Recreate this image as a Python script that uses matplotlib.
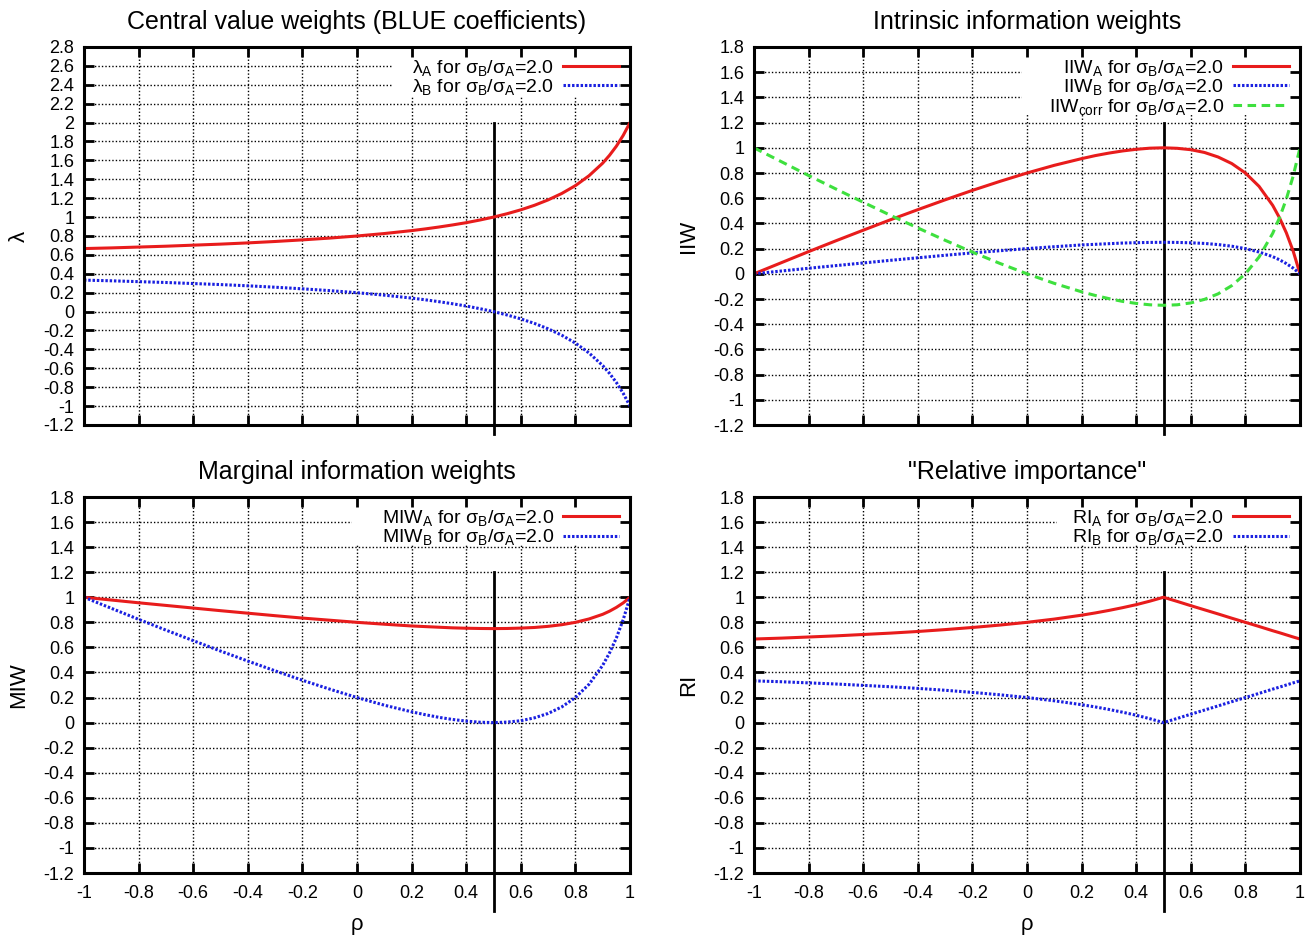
import matplotlib
matplotlib.use("Agg")
import matplotlib.pyplot as plt
from matplotlib.patches import Rectangle

plt.rcParams["font.family"] = ["Liberation Sans", "DejaVu Sans"]
plt.rcParams["mathtext.default"] = "regular"

# correlation values (x axis)
rho = [-1, -0.9, -0.8, -0.7, -0.6, -0.5, -0.4, -0.3, -0.2, -0.1, 0, 0.1, 0.2, 0.25, 0.3,
       0.35, 0.4, 0.45, 0.5, 0.55, 0.6, 0.65, 0.7, 0.75, 0.8, 0.85, 0.9, 0.925, 0.95, 0.975, 1]

# central value weights (BLUE coefficients)
lam_a = [0.667, 0.674, 0.683, 0.692, 0.703, 0.714, 0.727, 0.742, 0.759, 0.778, 0.800, 0.826,
         0.857, 0.875, 0.895, 0.917, 0.941, 0.969, 1.000, 1.036, 1.077, 1.125, 1.182, 1.250,
         1.333, 1.438, 1.571, 1.654, 1.750, 1.864, 2.000]
lam_b = [0.333, 0.326, 0.317, 0.308, 0.297, 0.286, 0.273, 0.258, 0.241, 0.222, 0.200, 0.174,
         0.143, 0.125, 0.105, 0.083, 0.059, 0.031, 0.000, -0.036, -0.077, -0.125, -0.182,
         -0.250, -0.333, -0.438, -0.571, -0.654, -0.750, -0.864, -1.000]

# intrinsic information weights
iiw_a = [0.000, 0.088, 0.176, 0.262, 0.346, 0.429, 0.509, 0.587, 0.662, 0.733, 0.800, 0.861,
         0.914, 0.938, 0.958, 0.975, 0.988, 0.997, 1.000, 0.996, 0.985, 0.963, 0.927, 0.875,
         0.800, 0.694, 0.543, 0.444, 0.325, 0.180, 0.000]
iiw_b = [0.000, 0.022, 0.044, 0.065, 0.086, 0.107, 0.127, 0.147, 0.166, 0.183, 0.200, 0.215,
         0.229, 0.234, 0.239, 0.244, 0.247, 0.249, 0.250, 0.249, 0.246, 0.241, 0.232, 0.219,
         0.200, 0.173, 0.136, 0.111, 0.081, 0.045, 0.000]
iiw_corr = [1.000, 0.890, 0.780, 0.673, 0.568, 0.464, 0.364, 0.266, 0.172, 0.083, 0.000,
            -0.076, -0.143, -0.172, -0.197, -0.219, -0.235, -0.246, -0.250, -0.246, -0.231,
            -0.203, -0.159, -0.094, 0.000, 0.133, 0.321, 0.445, 0.594, 0.776, 1.000]

# marginal information weights
miw_a = [1.000, 0.978, 0.956, 0.935, 0.914, 0.893, 0.873, 0.853, 0.834, 0.817, 0.800, 0.785,
         0.771, 0.766, 0.761, 0.756, 0.753, 0.751, 0.750, 0.751, 0.754, 0.759, 0.768, 0.781,
         0.800, 0.827, 0.864, 0.889, 0.919, 0.955, 1.000]
miw_b = [1.000, 0.912, 0.824, 0.738, 0.654, 0.571, 0.491, 0.413, 0.338, 0.267, 0.200, 0.139,
         0.086, 0.063, 0.042, 0.025, 0.012, 0.003, 0.000, 0.004, 0.015, 0.038, 0.073, 0.125,
         0.200, 0.306, 0.457, 0.556, 0.675, 0.821, 1.000]

# "relative importance"
ri_a = [0.667, 0.674, 0.683, 0.692, 0.703, 0.714, 0.727, 0.742, 0.759, 0.778, 0.800, 0.826,
        0.857, 0.875, 0.895, 0.917, 0.941, 0.969, 1.000, 0.967, 0.933, 0.900, 0.867, 0.833,
        0.800, 0.767, 0.733, 0.717, 0.700, 0.683, 0.667]
ri_b = [0.333, 0.326, 0.317, 0.308, 0.297, 0.286, 0.273, 0.258, 0.241, 0.222, 0.200, 0.174,
        0.143, 0.125, 0.105, 0.083, 0.059, 0.031, 0.000, 0.033, 0.067, 0.100, 0.133, 0.167,
        0.200, 0.233, 0.267, 0.283, 0.300, 0.317, 0.333]

x_ticks = [-1, -0.8, -0.6, -0.4, -0.2, 0, 0.2, 0.4, 0.6, 0.8, 1]
y_ticks_lam = [round(-1.2 + 0.2 * i, 1) for i in range(21)]
y_ticks = [round(-1.2 + 0.2 * i, 1) for i in range(16)]

RED = "#e81c1c"
BLUE = "#1a20e0"
GREEN = "#3ee03e"
DOT = (0, (0.8, 0.6))
DASH = (0, (2.8, 1.8))
ratio = " for σ$_B$/σ$_A$=2.0"

fig = plt.figure(figsize=(13.15, 9.36), dpi=100)
W, H = 1315, 936


def make_ax(x0, y0, x1, y1):
    return fig.add_axes([x0 / W, 1 - y1 / H, (x1 - x0) / W, (y1 - y0) / H])


def style(ax, yt, ylabel, title, key, bottom):
    ax.set_xlim(-1, 1)
    ax.set_ylim(yt[0], yt[-1])
    ax.set_xticks(x_ticks)
    ax.set_yticks(yt)
    ax.set_xticklabels(["%g" % v for v in x_ticks])
    ax.set_yticklabels(["%g" % v for v in yt])
    ax.tick_params(direction="in", length=7, width=2, top=True, right=True,
                   labelsize=13, labelbottom=bottom)
    ax.tick_params(axis="x", pad=9)
    ax.tick_params(axis="y", pad=7)
    for s in ax.spines.values():
        s.set_linewidth(2.2)
    # dotted grid by hand so the key box can blank it
    for v in x_ticks[1:-1]:
        ax.axvline(v, color="k", lw=1.0, ls=(0, (1, 1.5)), zorder=0)
    for v in yt[1:-1]:
        ax.axhline(v, color="k", lw=1.0, ls=(0, (1, 1.5)), zorder=0)
    kx, ky = key
    ax.add_patch(Rectangle((kx, ky), 1 - kx, yt[-1] - ky, facecolor="white",
                           edgecolor="none", zorder=0.5))
    ax.set_title(title, fontsize=18, pad=13)
    ax.set_ylabel(ylabel, fontsize=16, labelpad=10)
    if bottom:
        ax.set_xlabel("ρ", fontsize=16, labelpad=8)
    ax.legend(loc="upper right", frameon=False, markerfirst=False, fontsize=14,
              handlelength=2.9, handletextpad=0.45, labelspacing=-0.02,
              borderaxespad=0.3, borderpad=0.25)


# top left: BLUE coefficients
ax = make_ax(84, 47, 630, 425)
ax.axvline(0.5, ymin=-0.025, ymax=0.8, color="k", lw=2, clip_on=False, zorder=1)
ax.plot(rho, lam_a, color=RED, lw=2.2, label="λ$_A$" + ratio)
ax.plot(rho, lam_b, color=BLUE, lw=2.2, ls=DOT, label="λ$_B$" + ratio)
style(ax, y_ticks_lam, "λ", "Central value weights (BLUE coefficients)", (0.13, 2.28), False)

# top right: intrinsic information weights
ax = make_ax(754, 47, 1300, 425)
ax.axvline(0.5, ymin=-0.025, ymax=0.8, color="k", lw=2, clip_on=False, zorder=1)
ax.plot(rho, iiw_a, color=RED, lw=2.2, label="IIW$_A$" + ratio)
ax.plot(rho, iiw_b, color=BLUE, lw=2.2, ls=DOT, label="IIW$_B$" + ratio)
ax.plot(rho, iiw_corr, color=GREEN, lw=2.2, ls=DASH, label="IIW$_{corr}$" + ratio)
style(ax, y_ticks, "IIW", "Intrinsic information weights", (-0.02, 1.27), False)

# bottom left: marginal information weights
ax = make_ax(84, 497, 630, 873)
ax.axvline(0.5, ymin=-0.1, ymax=0.8, color="k", lw=2, clip_on=False, zorder=1)
ax.plot(rho, miw_a, color=RED, lw=2.2, label="MIW$_A$" + ratio)
ax.plot(rho, miw_b, color=BLUE, lw=2.2, ls=DOT, label="MIW$_B$" + ratio)
style(ax, y_ticks, "MIW", "Marginal information weights", (-0.02, 1.42), True)

# bottom right: relative importance
ax = make_ax(754, 497, 1300, 873)
ax.axvline(0.5, ymin=-0.1, ymax=0.8, color="k", lw=2, clip_on=False, zorder=1)
ax.plot(rho, ri_a, color=RED, lw=2.2, label="RI$_A$" + ratio)
ax.plot(rho, ri_b, color=BLUE, lw=2.2, ls=DOT, label="RI$_B$" + ratio)
style(ax, y_ticks, "RI", '"Relative importance"', (0.11, 1.42), True)

fig.savefig("out.png", dpi=100)
